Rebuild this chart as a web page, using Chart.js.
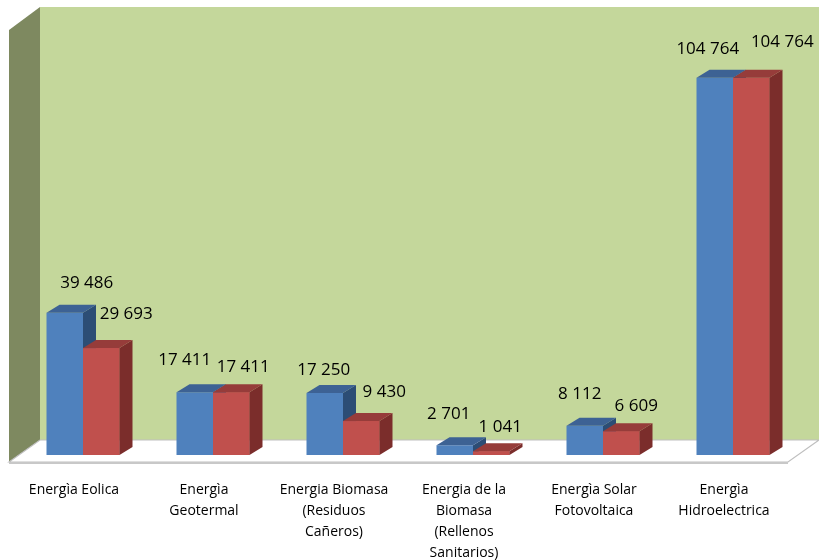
<!DOCTYPE html>
<html><head><meta charset="utf-8">
<script src="https://cdn.jsdelivr.net/npm/chart.js@4.4.1/dist/chart.umd.min.js"></script>
<style>html,body{margin:0;padding:0;background:#fff}#wrap{width:819px;height:560px;position:relative}</style>
</head><body><div id="wrap"><canvas id="c" width="819" height="560"></canvas></div>
<script>
// ---- data ----
const categories = [
  ["Energìa Eolica"],
  ["Energìa", "Geotermal"],
  ["Energia Biomasa", "(Residuos", "Cañeros)"],
  ["Energia de la", "Biomasa", "(Rellenos", "Sanitarios)"],
  ["Energìa Solar", "Fotovoltaica"],
  ["Energìa", "Hidroelectrica"]
];
const seriesBlue = [39486, 17411, 17250, 2701, 8112, 104764];
const seriesRed  = [29693, 17411, 9430, 1041, 6609, 104764];
const yMin = 0;
const yMax = 110000;

// ---- style ----
const COLORS = {
  wall: '#C4D79B', side: '#7E8960',
  blue: ['#4F81BD', '#3D6294', '#2C4D75'],
  red:  ['#C0504D', '#963C3A', '#7B2D2B']
};
const DEPTH = {dx: 13, dy: -8};
const labelOffsets = {
  blue: {dx: [22, -10, -1, -6, -5, -7], dy: [30, 32, 23, 31, 32, 29]},
  red:  {dx: [25, 12, 23, 9, 15, 31],  dy: [34, 25, 29, 24, 25, 36]}
};
function fmt(v){ return String(v).replace(/\B(?=(\d{3})+(?!\d))/g, ' '); }

const scene3d = {
  id: 'scene3d',
  beforeDatasetsDraw(chart){
    const {ctx, chartArea: a} = chart;
    const wallL = a.left + 22, frontL = a.left - 9;
    const backY = a.bottom - 15, frontY = a.bottom + 7, topY = 7;
    ctx.save();
    // back wall
    ctx.fillStyle = COLORS.wall;
    ctx.fillRect(wallL, topY, chart.width - wallL, backY - topY);
    // side wall
    ctx.fillStyle = COLORS.side;
    ctx.beginPath();
    ctx.moveTo(frontL, topY + 23); ctx.lineTo(wallL, topY);
    ctx.lineTo(wallL, backY); ctx.lineTo(frontL, frontY); ctx.closePath(); ctx.fill();
    // floor
    const rightFront = chart.width - 31;
    ctx.fillStyle = '#FFFFFF';
    ctx.strokeStyle = '#BFBFBF'; ctx.lineWidth = 1.2;
    ctx.beginPath();
    ctx.moveTo(frontL, frontY); ctx.lineTo(wallL, backY);
    ctx.lineTo(chart.width, backY); ctx.lineTo(rightFront, frontY); ctx.closePath();
    ctx.fill(); ctx.stroke();
    ctx.strokeStyle = '#C8C8C8'; ctx.lineWidth = 2;
    ctx.beginPath(); ctx.moveTo(frontL, frontY + 1); ctx.lineTo(rightFront, frontY + 1); ctx.stroke();
    ctx.restore();
  },
  afterDatasetsDraw(chart){
    const {ctx} = chart;
    const m0 = chart.getDatasetMeta(0).data, m1 = chart.getDatasetMeta(1).data;
    const face = (b, cols, front) => {
      const l = b.x - b.width / 2, r = b.x + b.width / 2, t = b.y, bot = b.base;
      if (front) { ctx.fillStyle = cols[0]; ctx.fillRect(l, t, r - l, bot - t); }
      // side
      ctx.fillStyle = cols[2];
      ctx.beginPath();
      ctx.moveTo(r, t); ctx.lineTo(r + DEPTH.dx, t + DEPTH.dy);
      ctx.lineTo(r + DEPTH.dx, bot + DEPTH.dy); ctx.lineTo(r, bot); ctx.closePath(); ctx.fill();
      // top
      ctx.fillStyle = cols[1];
      ctx.beginPath();
      ctx.moveTo(l, t); ctx.lineTo(l + DEPTH.dx, t + DEPTH.dy);
      ctx.lineTo(r + DEPTH.dx, t + DEPTH.dy); ctx.lineTo(r, t); ctx.closePath(); ctx.fill();
    };
    ctx.save();
    for (let i = 0; i < m0.length; i++) {
      face(m0[i], COLORS.blue, false);
      face(m1[i], COLORS.red, true);
    }
    ctx.font = '17px "Open Sans"';
    ctx.fillStyle = '#000';
    ctx.textAlign = 'center'; ctx.textBaseline = 'middle';
    for (let i = 0; i < m0.length; i++) {
      ctx.fillText(fmt(seriesBlue[i]), m0[i].x + labelOffsets.blue.dx[i], m0[i].y - labelOffsets.blue.dy[i]);
      ctx.fillText(fmt(seriesRed[i]), m1[i].x + labelOffsets.red.dx[i], m1[i].y - labelOffsets.red.dy[i]);
    }
    ctx.restore();
  }
};

new Chart(document.getElementById('c'), {
  type: 'bar',
  data: {
    labels: categories,
    datasets: [
      {label: 'Serie 1', data: seriesBlue, backgroundColor: COLORS.blue[0], borderWidth: 0},
      {label: 'Serie 2', data: seriesRed, backgroundColor: COLORS.red[0], borderWidth: 0}
    ]
  },
  options: {
    responsive: false, animation: false,
    categoryPercentage: 0.5615, barPercentage: 1.0,
    layout: {padding: {left: 18, right: 21, top: 59, bottom: 0}},
    plugins: {legend: {display: false}, tooltip: {enabled: false}, title: {display: false}},
    scales: {
      x: {
        grid: {display: false, drawTicks: false}, border: {display: false},
        ticks: {autoSkip: false, maxRotation: 0, minRotation: 0, padding: 25, labelOffset: -9,
                color: '#000', font: {family: '"Open Sans"', size: 14, lineHeight: 1.48}},
        afterFit(s){ s.height = 105; }
      },
      y: {display: false, min: yMin, max: yMax}
    }
  },
  plugins: [scene3d]
});
</script></body></html>
